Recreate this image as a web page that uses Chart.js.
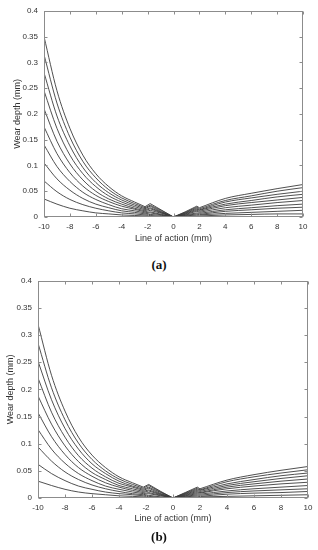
<!DOCTYPE html>
<html>
<head>
<meta charset="utf-8">
<script src="https://cdn.jsdelivr.net/npm/chart.js@4/dist/chart.umd.min.js"></script>
<style>
  body { margin: 0; background: #fff; width: 318px; height: 550px; position: relative; overflow: hidden; }
  .box { position: absolute; left: 0; }
  .cap { position: absolute; left: 0; width: 318px; text-align: center; font: bold 13px "Liberation Serif", serif; color: #111; line-height: 16px; }
</style>
</head>
<body>
<div class="box" style="top:0"><canvas id="chartA" width="318" height="250"></canvas></div>
<div class="cap" style="top:257px">(a)</div>
<div class="box" style="top:270px"><canvas id="chartB" width="318" height="260"></canvas></div>
<div class="cap" style="top:529px">(b)</div>
<script>
// positions along the line of action (mm)
const xs = [-10, -9, -8, -7, -6, -5, -4, -3, -2.2, -1.8, -0.9, 0, 0.9, 1.8, 2.0, 4, 6, 8, 10];

// wear depth (mm), figure (a), one row per curve
const wearA = [
  [0.350, 0.245, 0.172, 0.120, 0.084, 0.059, 0.041, 0.029, 0.020, 0.026, 0.013, 0, 0.010, 0.021, 0.018, 0.036, 0.046, 0.055, 0.063],
  [0.315, 0.221, 0.155, 0.108, 0.076, 0.053, 0.037, 0.026, 0.018, 0.023, 0.012, 0, 0.009, 0.019, 0.016, 0.032, 0.041, 0.050, 0.057],
  [0.280, 0.196, 0.138, 0.096, 0.067, 0.047, 0.033, 0.023, 0.016, 0.021, 0.010, 0, 0.008, 0.017, 0.014, 0.029, 0.037, 0.044, 0.050],
  [0.245, 0.172, 0.120, 0.084, 0.059, 0.041, 0.029, 0.020, 0.014, 0.018, 0.009, 0, 0.007, 0.015, 0.013, 0.025, 0.032, 0.039, 0.044],
  [0.210, 0.147, 0.103, 0.072, 0.050, 0.035, 0.025, 0.017, 0.012, 0.016, 0.008, 0, 0.006, 0.013, 0.011, 0.022, 0.028, 0.033, 0.038],
  [0.175, 0.123, 0.086, 0.060, 0.042, 0.030, 0.021, 0.015, 0.010, 0.013, 0.007, 0, 0.005, 0.011, 0.009, 0.018, 0.023, 0.028, 0.032],
  [0.140, 0.098, 0.069, 0.048, 0.034, 0.024, 0.016, 0.012, 0.008, 0.010, 0.005, 0, 0.004, 0.008, 0.007, 0.014, 0.018, 0.022, 0.025],
  [0.105, 0.074, 0.052, 0.036, 0.025, 0.018, 0.012, 0.009, 0.006, 0.008, 0.004, 0, 0.003, 0.006, 0.005, 0.011, 0.014, 0.017, 0.019],
  [0.070, 0.049, 0.034, 0.024, 0.017, 0.012, 0.008, 0.006, 0.004, 0.005, 0.003, 0, 0.002, 0.004, 0.004, 0.007, 0.009, 0.011, 0.013],
  [0.035, 0.025, 0.017, 0.012, 0.008, 0.006, 0.004, 0.003, 0.002, 0.003, 0.001, 0, 0.001, 0.002, 0.002, 0.004, 0.005, 0.006, 0.006]
];

// wear depth (mm), figure (b)
const wearB = [
  [0.320, 0.226, 0.160, 0.112, 0.079, 0.056, 0.039, 0.028, 0.020, 0.025, 0.012, 0, 0.010, 0.020, 0.017, 0.033, 0.043, 0.051, 0.058],
  [0.285, 0.203, 0.144, 0.101, 0.071, 0.050, 0.035, 0.025, 0.018, 0.023, 0.011, 0, 0.009, 0.018, 0.015, 0.030, 0.039, 0.046, 0.052],
  [0.252, 0.181, 0.128, 0.090, 0.063, 0.045, 0.031, 0.022, 0.016, 0.020, 0.010, 0, 0.008, 0.016, 0.014, 0.026, 0.034, 0.041, 0.046],
  [0.221, 0.158, 0.112, 0.078, 0.055, 0.039, 0.027, 0.020, 0.014, 0.018, 0.008, 0, 0.007, 0.014, 0.012, 0.023, 0.030, 0.036, 0.041],
  [0.188, 0.136, 0.096, 0.067, 0.047, 0.034, 0.023, 0.017, 0.012, 0.015, 0.007, 0, 0.006, 0.012, 0.010, 0.020, 0.026, 0.031, 0.035],
  [0.157, 0.113, 0.080, 0.056, 0.040, 0.028, 0.020, 0.014, 0.010, 0.013, 0.006, 0, 0.005, 0.010, 0.009, 0.017, 0.022, 0.026, 0.029],
  [0.126, 0.090, 0.064, 0.045, 0.032, 0.022, 0.016, 0.011, 0.008, 0.010, 0.005, 0, 0.004, 0.008, 0.007, 0.013, 0.017, 0.020, 0.023],
  [0.094, 0.068, 0.048, 0.034, 0.024, 0.017, 0.012, 0.008, 0.006, 0.008, 0.004, 0, 0.003, 0.006, 0.005, 0.010, 0.013, 0.015, 0.017],
  [0.062, 0.045, 0.032, 0.022, 0.016, 0.011, 0.008, 0.006, 0.004, 0.005, 0.002, 0, 0.002, 0.004, 0.003, 0.007, 0.009, 0.010, 0.012],
  [0.031, 0.023, 0.016, 0.011, 0.008, 0.006, 0.004, 0.003, 0.002, 0.003, 0.001, 0, 0.001, 0.002, 0.002, 0.003, 0.004, 0.005, 0.006]
];

// index ranges of xs: smooth left flank, straight contact zone, smooth right flank
const segments = [[0, 8, "monotone"], [8, 14, "linear"], [14, 18, "monotone"]];

const xLabel = "Line of action (mm)";
const yLabel = "Wear depth (mm)";

const FONT = { family: "'Liberation Sans', Arial, sans-serif", size: 9 };
const TICKFONT = { family: "'Liberation Sans', Arial, sans-serif", size: 8 };
const TEXT = "#333";
const FRAME = "#8c8c8c";

// box round the plot with MATLAB-style inward ticks
const framePlugin = {
  id: "frame",
  afterDraw(chart) {
    const { ctx, chartArea: a, scales } = chart;
    const L = Math.round(a.left) + 0.5, R = Math.round(a.right) - 0.5;
    const T = Math.round(a.top) + 0.5, B = Math.round(a.bottom) - 0.5;
    ctx.save();
    ctx.strokeStyle = FRAME;
    ctx.lineWidth = 1;
    ctx.strokeRect(L, T, R - L, B - T);
    ctx.beginPath();
    scales.x.ticks.forEach(t => {
      const px = Math.round(scales.x.getPixelForValue(t.value)) + 0.5;
      ctx.moveTo(px, B); ctx.lineTo(px, B - 3);
      ctx.moveTo(px, T); ctx.lineTo(px, T + 3);
    });
    scales.y.ticks.forEach(t => {
      const py = Math.round(scales.y.getPixelForValue(t.value)) + 0.5;
      ctx.moveTo(L, py); ctx.lineTo(L + 3, py);
      ctx.moveTo(R, py); ctx.lineTo(R - 3, py);
    });
    ctx.stroke();
    ctx.restore();
  }
};

function makeChart(id, rows, pad, yWidth, xHeight, yTitlePad) {
  const datasets = [];
  rows.forEach(r => {
    segments.forEach(([i0, i1, mode]) => {
      const pts = [];
      for (let i = i0; i <= i1; i++) pts.push({ x: xs[i], y: r[i] });
      datasets.push({
        data: pts,
        borderColor: "#3c3c3c",
        borderWidth: 0.9,
        pointRadius: 0,
        fill: false,
        tension: 0,
        cubicInterpolationMode: mode === "monotone" ? "monotone" : "default"
      });
    });
  });
  return new Chart(document.getElementById(id), {
    type: "line",
    data: { datasets },
    plugins: [framePlugin],
    options: {
      responsive: false,
      animation: false,
      devicePixelRatio: 1,
      layout: { padding: pad },
      plugins: { legend: { display: false }, tooltip: { enabled: false } },
      scales: {
        x: {
          type: "linear", min: -10, max: 10,
          afterFit: s => { s.height = xHeight; },
          grid: { display: false, drawTicks: false },
          border: { display: false },
          ticks: { stepSize: 2, color: TEXT, font: TICKFONT, padding: 5, maxRotation: 0 },
          title: { display: true, text: xLabel, color: TEXT, font: FONT, padding: { top: 6, bottom: 6 } }
        },
        y: {
          min: 0, max: 0.4,
          afterFit: s => { s.width = yWidth; },
          grid: { display: false, drawTicks: false },
          border: { display: false },
          ticks: { stepSize: 0.05, color: TEXT, font: TICKFONT, padding: 6,
                   callback: v => String(+v.toFixed(2)) },
          title: { display: true, text: yLabel, color: TEXT, font: FONT, padding: { top: yTitlePad, bottom: yTitlePad } }
        }
      }
    }
  });
}

makeChart("chartA", wearA, { top: 8, right: 15, left: 0, bottom: 0 }, 44, 33, 12);
makeChart("chartB", wearB, { top: 9, right: 10, left: 0, bottom: 0 }, 38, 32, 5);
</script>
</body>
</html>
